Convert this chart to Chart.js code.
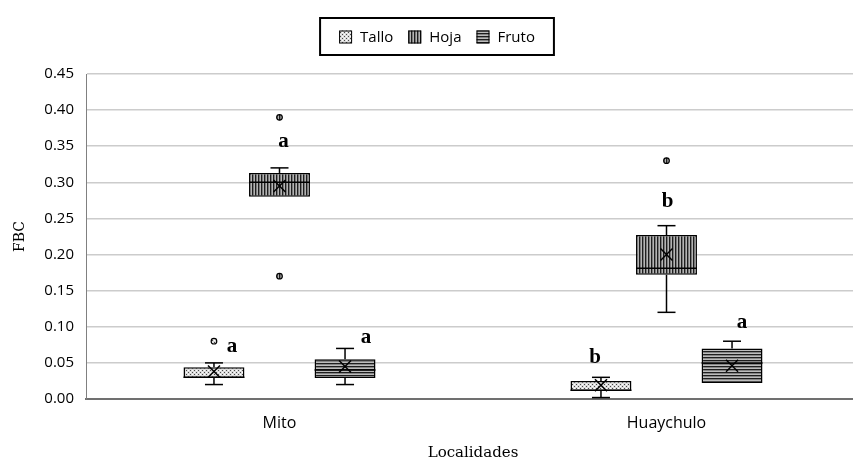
<!DOCTYPE html>
<html>
<head>
<meta charset="utf-8">
<script src="https://cdn.jsdelivr.net/npm/chart.js@4.4.0/dist/chart.umd.min.js"></script>
<style>
html, body { margin: 0; padding: 0; background: #fff; overflow: hidden; }
</style>
</head>
<body>
<canvas id="grafico" width="874" height="464"></canvas>
<script>
// Localidades (eje x) y partes de la planta (series)
const localidades = ['Mito', 'Huaychulo'];
const partes = ['Tallo', 'Hoja', 'Fruto'];
const marcasY = [0, 0.05, 0.10, 0.15, 0.20, 0.25, 0.30, 0.35, 0.40, 0.45];

// valores por localidad: [Mito, Huaychulo]
const talloMin = [0.02, 0.002];
const talloQ1 = [0.029, 0.011];
const talloMediana = [0.03, 0.012];
const talloQ3 = [0.044, 0.025];
const talloMax = [0.05, 0.03];
const talloMedia = [0.038, 0.019];
const talloAtipicos = [[0.08], []];
const talloLetras = ['a', 'b'];

const hojaMin = [0.28, 0.12];
const hojaQ1 = [0.28, 0.172];
const hojaMediana = [0.30, 0.181];
const hojaQ3 = [0.313, 0.227];
const hojaMax = [0.32, 0.24];
const hojaMedia = [0.295, 0.20];
const hojaAtipicos = [[0.39, 0.17], [0.33]];
const hojaLetras = ['a', 'b'];

const frutoMin = [0.02, 0.022];
const frutoQ1 = [0.029, 0.022];
const frutoMediana = [0.04, 0.05];
const frutoQ3 = [0.055, 0.07];
const frutoMax = [0.07, 0.08];
const frutoMedia = [0.045, 0.046];
const frutoAtipicos = [[], []];
const frutoLetras = ['a', 'a'];

const series = [
  { min: talloMin, q1: talloQ1, med: talloMediana, q3: talloQ3, max: talloMax, media: talloMedia, atip: talloAtipicos, letras: talloLetras },
  { min: hojaMin, q1: hojaQ1, med: hojaMediana, q3: hojaQ3, max: hojaMax, media: hojaMedia, atip: hojaAtipicos, letras: hojaLetras },
  { min: frutoMin, q1: frutoQ1, med: frutoMediana, q3: frutoQ3, max: frutoMax, media: frutoMedia, atip: frutoAtipicos, letras: frutoLetras }
];

// donde van las letras (valor en y, corrimiento en px)
const letraPos = [
  { y: [0.073, 0.057], dx: [18, -6] },
  { y: [0.357, 0.273], dx: [4, 1] },
  { y: [0.085, 0.106], dx: [21, 10] }
];

// tramas
function trama(tipo) {
  const c = document.createElement('canvas');
  const g = c.getContext('2d');
  if (tipo === 'puntos') {
    c.width = 4; c.height = 4;
    g.fillStyle = '#dcdcdc'; g.fillRect(0, 0, 4, 4);
    g.fillStyle = '#4a4a4a'; g.fillRect(0, 0, 1, 1); g.fillRect(2, 2, 1, 1);
    g.fillStyle = '#fff'; g.fillRect(2, 0, 1, 1); g.fillRect(0, 2, 1, 1);
  } else if (tipo === 'vertical') {
    c.width = 3; c.height = 1;
    g.fillStyle = '#1e1e1e'; g.fillRect(0, 0, 1, 1);
    g.fillStyle = '#7a7a7a'; g.fillRect(1, 0, 1, 1);
    g.fillStyle = '#b4b4b4'; g.fillRect(2, 0, 1, 1);
  } else {
    c.width = 1; c.height = 3;
    g.fillStyle = '#1e1e1e'; g.fillRect(0, 0, 1, 1);
    g.fillStyle = '#858585'; g.fillRect(0, 1, 1, 1);
    g.fillStyle = '#bcbcbc'; g.fillRect(0, 2, 1, 1);
  }
  return document.getElementById('grafico').getContext('2d').createPattern(c, 'repeat');
}
const tramas = [trama('puntos'), trama('vertical'), trama('horizontal')];

const cajasPlugin = {
  id: 'cajas',
  afterDatasetsDraw(chart) {
    const ctx = chart.ctx;
    const y = chart.scales.y;
    const linea = (x1, y1, x2, y2) => {
      ctx.beginPath(); ctx.moveTo(x1, y1); ctx.lineTo(x2, y2); ctx.stroke();
    };
    series.forEach((s, d) => {
      const meta = chart.getDatasetMeta(d);
      meta.data.forEach((bar, i) => {
        const x = bar.x, w = bar.width;
        ctx.save();
        ctx.strokeStyle = '#000';
        ctx.lineWidth = 1.5;
        // bigotes
        if (s.max[i] > s.q3[i]) {
          const ym = y.getPixelForValue(s.max[i]);
          linea(x, y.getPixelForValue(s.q3[i]), x, ym);
          linea(x - 9, ym, x + 9, ym);
        }
        if (s.min[i] < s.q1[i]) {
          const ym = y.getPixelForValue(s.min[i]);
          linea(x, y.getPixelForValue(s.q1[i]), x, ym);
          linea(x - 9, ym, x + 9, ym);
        }
        // mediana
        const yMed = y.getPixelForValue(s.med[i]);
        linea(x - w / 2, yMed, x + w / 2, yMed);
        // media
        const yMedia = y.getPixelForValue(s.media[i]);
        linea(x - 6, yMedia - 6, x + 6, yMedia + 6);
        linea(x - 6, yMedia + 6, x + 6, yMedia - 6);
        // atipicos
        ctx.lineWidth = 1.2;
        s.atip[i].forEach(v => {
          ctx.beginPath();
          ctx.arc(x, y.getPixelForValue(v), 2.8, 0, Math.PI * 2);
          ctx.fillStyle = tramas[d];
          ctx.fill();
          ctx.stroke();
        });
        // letras
        ctx.fillStyle = '#000';
        ctx.font = 'bold 21px "Liberation Serif"';
        ctx.textAlign = 'center';
        ctx.textBaseline = 'middle';
        ctx.fillText(s.letras[i], x + letraPos[d].dx[i], y.getPixelForValue(letraPos[d].y[i]));
        ctx.restore();
      });
    });
  }
};

const leyendaPlugin = {
  id: 'leyenda',
  afterDraw(chart) {
    const ctx = chart.ctx;
    ctx.save();
    ctx.font = '15px "Open Sans"';
    const caja = 13, hueco = 8, sep = 15;
    const anchos = partes.map(p => ctx.measureText(p).width);
    const total = anchos.reduce((a, b) => a + b, 0) + partes.length * (caja + hueco) + (partes.length - 1) * sep;
    const cx = 437, cy = 37;
    let x = cx - total / 2;
    ctx.strokeStyle = '#000';
    ctx.lineWidth = 2;
    ctx.strokeRect(x - 19, 18, total + 38, 37);
    ctx.textBaseline = 'middle';
    partes.forEach((p, k) => {
      ctx.fillStyle = tramas[k];
      ctx.fillRect(x, cy - caja / 2, caja, caja);
      ctx.lineWidth = 1;
      ctx.strokeRect(x + 0.5, cy - caja / 2 + 0.5, caja - 1, caja - 1);
      ctx.fillStyle = '#000';
      ctx.fillText(p, x + caja + hueco, cy + 1);
      x += caja + hueco + anchos[k] + sep;
    });
    ctx.restore();
  }
};

new Chart(document.getElementById('grafico'), {
  type: 'bar',
  data: {
    labels: localidades,
    datasets: partes.map((p, d) => ({
      label: p,
      data: localidades.map((_, i) => [series[d].q1[i], series[d].q3[i]]),
      backgroundColor: tramas[d],
      borderColor: '#000',
      borderWidth: 1.5,
      borderSkipped: false,
      categoryPercentage: 0.508,
      barPercentage: 0.93
    }))
  },
  options: {
    responsive: false,
    animation: false,
    layout: { padding: { top: 74, right: 14, bottom: 0, left: 0 } },
    plugins: {
      legend: { display: false },
      tooltip: { enabled: false }
    },
    scales: {
      x: {
        grid: { display: false },
        border: { display: true, color: '#707070', width: 2 },
        ticks: { color: '#000', font: { family: 'Open Sans', size: 16 }, padding: 7 },
        title: {
          display: true, text: 'Localidades', color: '#000',
          font: { family: 'DejaVu Serif', size: 15 }, padding: { top: 4, bottom: 2 }
        },
        afterFit(s) { s.height = 65; }
      },
      y: {
        min: 0,
        max: 0.45,
        afterBuildTicks(s) { s.ticks = marcasY.map(v => ({ value: v })); },
        grid: { color: '#cccccc', lineWidth: 1.5, drawTicks: false },
        border: { display: true, color: '#808080', width: 1 },
        ticks: {
          color: '#000', font: { family: 'Open Sans', size: 15 }, padding: 12,
          callback: v => v.toFixed(2)
        },
        title: {
          display: true, text: 'FBC', color: '#000',
          font: { family: 'DejaVu Serif', size: 14 }, padding: { top: 12, bottom: 0 }
        },
        afterFit(s) { s.width = 86; }
      }
    }
  },
  plugins: [cajasPlugin, leyendaPlugin]
});
</script>
</body>
</html>
